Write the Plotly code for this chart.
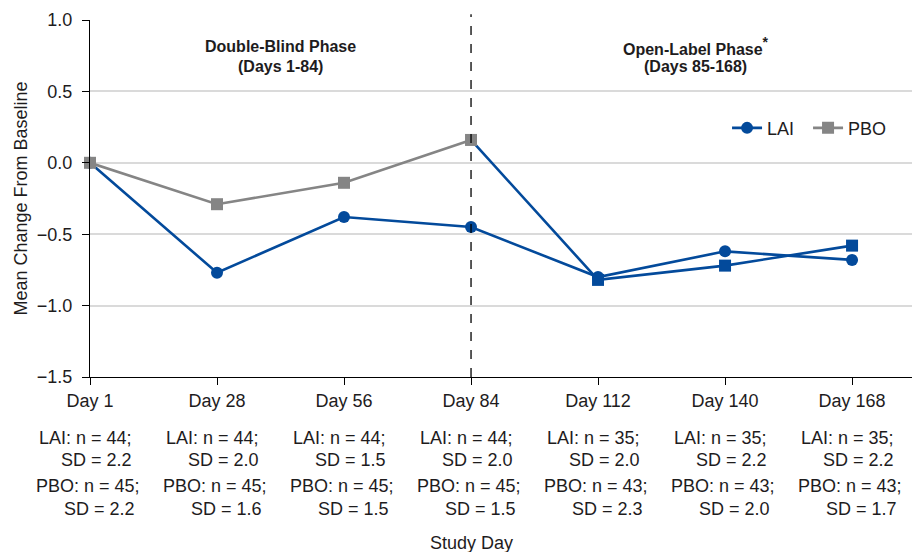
import plotly.graph_objects as go

# Study visits and mean change from baseline per arm
days = ["Day 1", "Day 28", "Day 56", "Day 84", "Day 112", "Day 140", "Day 168"]
lai_mean = [0.0, -0.77, -0.38, -0.45, -0.80, -0.62, -0.68]
pbo_mean = [0.0, -0.29, -0.14, 0.16, -0.82, -0.72, -0.58]

# Sample sizes and standard deviations per visit
lai_n = [44, 44, 44, 44, 35, 35, 35]
lai_sd = ["2.2", "2.0", "1.5", "2.0", "2.0", "2.2", "2.2"]
pbo_n = [45, 45, 45, 45, 43, 43, 43]
pbo_sd = ["2.2", "1.6", "1.5", "1.5", "2.3", "2.0", "1.7"]

y_ticks = [1.0, 0.5, 0.0, -0.5, -1.0, -1.5]

BLUE = "#034a9b"
GRAY = "#858585"
TEXT = "#1e1c1d"
FONT = "Liberation Sans, Arial, Helvetica, sans-serif"
FS = 18
HFS = 16

x = list(range(len(days)))
switch = days.index("Day 84")

fig = go.Figure()

# LAI arm
fig.add_trace(go.Scatter(
    x=x, y=lai_mean, mode="lines+markers", name="LAI",
    line=dict(color=BLUE, width=2.6),
    marker=dict(symbol="circle", size=12, color=BLUE, opacity=1, line=dict(width=0)),
    cliponaxis=False,
))

# PBO arm after switching to open-label LAI (blue)
ol_x = x[switch:]
ol_y = pbo_mean[switch:]
fig.add_trace(go.Scatter(
    x=ol_x, y=ol_y, mode="lines+markers", name="PBO (open-label)",
    line=dict(color=BLUE, width=2.6),
    marker=dict(symbol="square", size=[0] + [12] * (len(ol_x) - 1), color=BLUE,
                opacity=1, line=dict(width=0)),
    showlegend=False, cliponaxis=False,
))

# PBO arm during double-blind phase (gray)
db_x = x[:switch + 1]
db_y = pbo_mean[:switch + 1]
fig.add_trace(go.Scatter(
    x=db_x, y=db_y, mode="lines+markers", name="PBO",
    line=dict(color=GRAY, width=2.6),
    marker=dict(symbol="square", size=12, color=GRAY, opacity=1, line=dict(width=0)),
    cliponaxis=False,
))

# Phase divider at Day 84
fig.add_shape(type="line", xref="x", yref="paper", x0=switch, x1=switch,
              y0=0, y1=1.016, line=dict(color="black", width=1.3, dash="dash"))

annotations = []

hfont = dict(size=HFS, color=TEXT, family=FONT)
# Phase headers
annotations += [
    dict(x=1.5, y=1, xref="x", yref="paper", yanchor="middle", yshift=-26,
         showarrow=False, text="<b>Double-Blind Phase</b>", font=hfont),
    dict(x=1.5, y=1, xref="x", yref="paper", yanchor="middle", yshift=-46,
         showarrow=False, text="<b>(Days 1-84)</b>", font=hfont),
    dict(x=4.77, y=1, xref="x", yref="paper", yanchor="middle", yshift=-26,
         showarrow=False,
         text="<b>Open-Label Phase</b><span style='font-size:20px'><sup><b>*</b></sup></span>",
         font=hfont),
    dict(x=4.77, y=1, xref="x", yref="paper", yanchor="middle", yshift=-46,
         showarrow=False, text="<b>(Days 85-168)</b>", font=hfont),
]

# n / SD rows under each visit
for i in x:
    rows = [
        (f"LAI: n = {lai_n[i]};", 44, -61),
        (f"SD = {lai_sd[i]}", 44, -83),
        (f"PBO: n = {pbo_n[i]};", 52, -109),
        (f"SD = {pbo_sd[i]}", 47, -132),
    ]
    for txt, dx, dy in rows:
        annotations.append(dict(
            x=i, y=0, xref="x", yref="paper", xanchor="right", yanchor="middle",
            xshift=dx, yshift=dy, showarrow=False, text=txt,
            font=dict(size=FS, color=TEXT, family=FONT),
        ))

# Axis titles
annotations.append(dict(
    x=0, y=0.5, xref="paper", yref="paper", xanchor="center", yanchor="middle",
    xshift=-70, showarrow=False, text="Mean Change From Baseline", textangle=-90,
    font=dict(size=FS, color=TEXT, family=FONT),
))
annotations.append(dict(
    x=switch, y=0, xref="x", yref="paper", xanchor="center", yanchor="middle",
    yshift=-166, showarrow=False, text="Study Day",
    font=dict(size=FS, color=TEXT, family=FONT),
))

fig.update_layout(
    width=912, height=552,
    margin=dict(l=90, r=0, t=20, b=175),
    paper_bgcolor="white", plot_bgcolor="white",
    font=dict(family=FONT, size=FS, color=TEXT),
    showlegend=True,
    legend=dict(orientation="h", x=0.775, y=0.697, xanchor="left", yanchor="middle",
                entrywidth=36, entrywidthmode="pixels",
                bgcolor="rgba(0,0,0,0)", font=dict(size=FS, color=TEXT, family=FONT)),
    annotations=annotations,
    xaxis=dict(
        range=[0, 6.472], tickmode="array", tickvals=x, ticktext=days,
        showgrid=False, zeroline=False, showline=True, linecolor="black", linewidth=1.3,
        ticks="outside", ticklen=7, tickcolor="black", tickwidth=1.3,
        tickfont=dict(size=FS, color=TEXT, family=FONT),
    ),
    yaxis=dict(
        range=[-1.5, 1.0], tickmode="array", tickvals=y_ticks,
        tickformat=".1f", showgrid=True, gridcolor="#dadada", gridwidth=1.5,
        zeroline=False, showline=True, linecolor="black", linewidth=1.3,
        ticks="outside", ticklen=7, tickcolor="black", tickwidth=1.3,
        ticklabelstandoff=6,
        tickfont=dict(size=FS, color=TEXT, family=FONT),
    ),
)

fig.write_html("out.html")
